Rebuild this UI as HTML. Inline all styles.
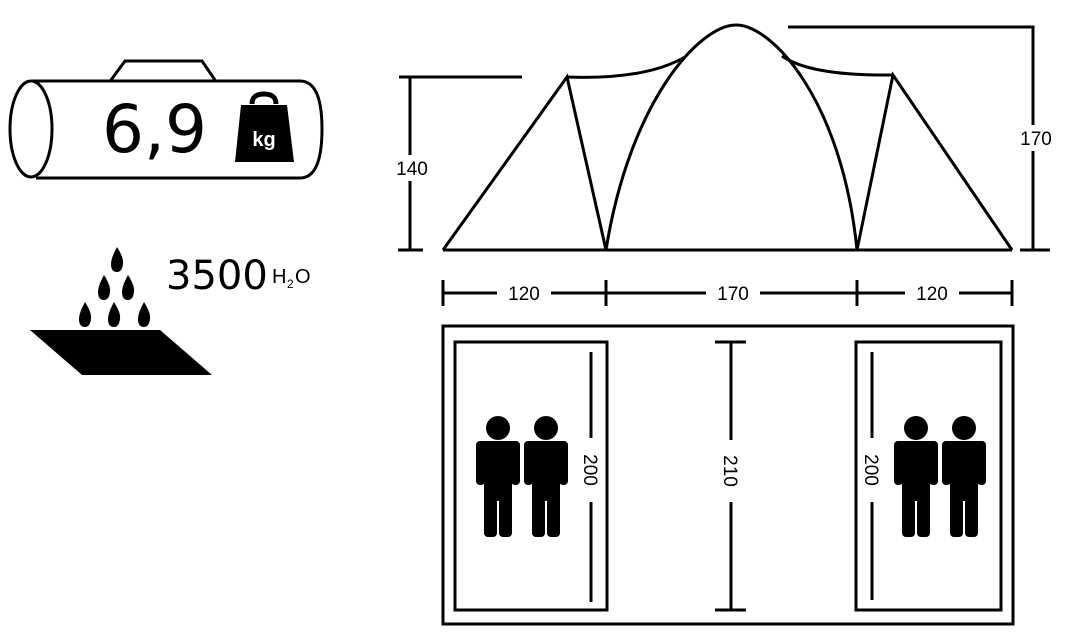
<!DOCTYPE html>
<html><head><meta charset="utf-8"><style>
html,body{margin:0;padding:0;background:#fff;}
svg{display:block;}
text{font-family:"Liberation Sans",sans-serif;}
</style></head><body>
<svg width="1067" height="640" viewBox="0 0 1067 640" xmlns="http://www.w3.org/2000/svg">
<defs>
<g id="p">
 <circle cx="0" cy="428" r="12"/>
 <rect x="-22" y="441" width="44" height="20" rx="5"/>
 <rect x="-22" y="441" width="9" height="44" rx="4"/>
 <rect x="13" y="441" width="9" height="44" rx="4"/>
 <rect x="-14" y="441" width="28" height="60"/>
 <rect x="-14" y="490" width="13" height="47" rx="4"/>
 <rect x="1" y="490" width="13" height="47" rx="4"/>
</g>
</defs>
<g fill="none" stroke="#000" stroke-width="3">
 <path d="M111 80 L125 61 L202 61 L215 80"/>
 <path d="M32 81 L300 81 Q322 81 322 129 Q322 178 300 178 L36 178"/>
 <ellipse cx="31" cy="129" rx="21" ry="48"/>
</g>
<text x="102" y="152" font-size="66" style="font-family:'DejaVu Sans',sans-serif">6,9</text>
<path d="M252 104 Q252 94 264 94 Q276 94 276 104" fill="none" stroke="#000" stroke-width="5"/>
<path d="M241 105 L287 105 L294 162 L235 162 Z" fill="#000"/>
<text x="264" y="146" font-size="20" font-weight="bold" fill="#fff" text-anchor="middle">kg</text>
<g fill="#000">
 <path d="M117 247 Q124 258 123 264 Q122 272 117 272 Q111 272 111 264 Q111 258 117 247Z"/>
 <path d="M104 275 Q111 286 110 292 Q109 300 104 300 Q98 300 98 292 Q98 286 104 275Z"/>
 <path d="M128 275 Q135 286 134 292 Q133 300 128 300 Q122 300 122 292 Q122 286 128 275Z"/>
 <path d="M85 302 Q92 313 91 319 Q90 327 85 327 Q79 327 79 319 Q79 313 85 302Z"/>
 <path d="M114 302 Q121 313 120 319 Q119 327 114 327 Q108 327 108 319 Q108 313 114 302Z"/>
 <path d="M144 302 Q151 313 150 319 Q149 327 144 327 Q138 327 138 319 Q138 313 144 302Z"/>
 <path d="M30 330 L160 330 L212 375 L82 375 Z"/>
</g>
<text x="166" y="289" font-size="40" style="font-family:'DejaVu Sans',sans-serif">3500</text>
<text x="272" y="283" font-size="20">H</text><text x="287" y="288" font-size="12">2</text><text x="295" y="283" font-size="20">O</text>
<g fill="none" stroke="#000" stroke-width="3">
 <path d="M443 250 L1012 250"/>
 <path d="M443 250 L567 77 L606 250"/>
 <path d="M1012 250 L893 75 L857 250"/>
 <path d="M567 77 Q645 80 685 57"/>
 <path d="M893 75 Q810 76 782 56"/>
 <path d="M606 250 C630 100 700 25 736 25 C772 25 842 100 857 250"/>
 <path d="M410 77 L410 250 M399 77 L522 77 M398 250 L423 250"/>
 <path d="M788 27 L1033 27 L1033 250 M1020 250 L1050 250"/>
 <path d="M443 293 L1012 293 M443 280 L443 306 M606 280 L606 306 M857 280 L857 306 M1012 280 L1012 306"/>
 <rect x="443" y="326" width="570" height="298"/>
 <rect x="455" y="342" width="152" height="268"/>
 <rect x="856" y="342" width="145" height="268"/>
 <path d="M591 352 L591 602 M872 352 L872 600"/>
 <path d="M731 342 L731 610 M715 342 L746 342 M715 610 L746 610"/>
</g>
<g font-size="19" text-anchor="middle">
 <rect x="392" y="155" width="40" height="26" fill="#fff"/>
 <text x="412" y="175">140</text>
 <rect x="1012" y="125" width="48" height="26" fill="#fff"/>
 <text x="1036" y="145">170</text>
 <rect x="497" y="282" width="54" height="22" fill="#fff"/>
 <text x="524" y="300">120</text>
 <rect x="706" y="282" width="54" height="22" fill="#fff"/>
 <text x="733" y="300">170</text>
 <rect x="905" y="282" width="54" height="22" fill="#fff"/>
 <text x="932" y="300">120</text>
 <rect x="580" y="438" width="22" height="64" fill="#fff"/>
 <text transform="translate(584 470) rotate(90)" x="0" y="0">200</text>
 <rect x="720" y="440" width="22" height="62" fill="#fff"/>
 <text transform="translate(724 471) rotate(90)" x="0" y="0">210</text>
 <rect x="861" y="438" width="22" height="64" fill="#fff"/>
 <text transform="translate(865 470) rotate(90)" x="0" y="0">200</text>
</g>
<g fill="#000">
 <use href="#p" x="498"/>
 <use href="#p" x="546"/>
 <use href="#p" x="916"/>
 <use href="#p" x="964"/>
</g>
</svg>
</body></html>
